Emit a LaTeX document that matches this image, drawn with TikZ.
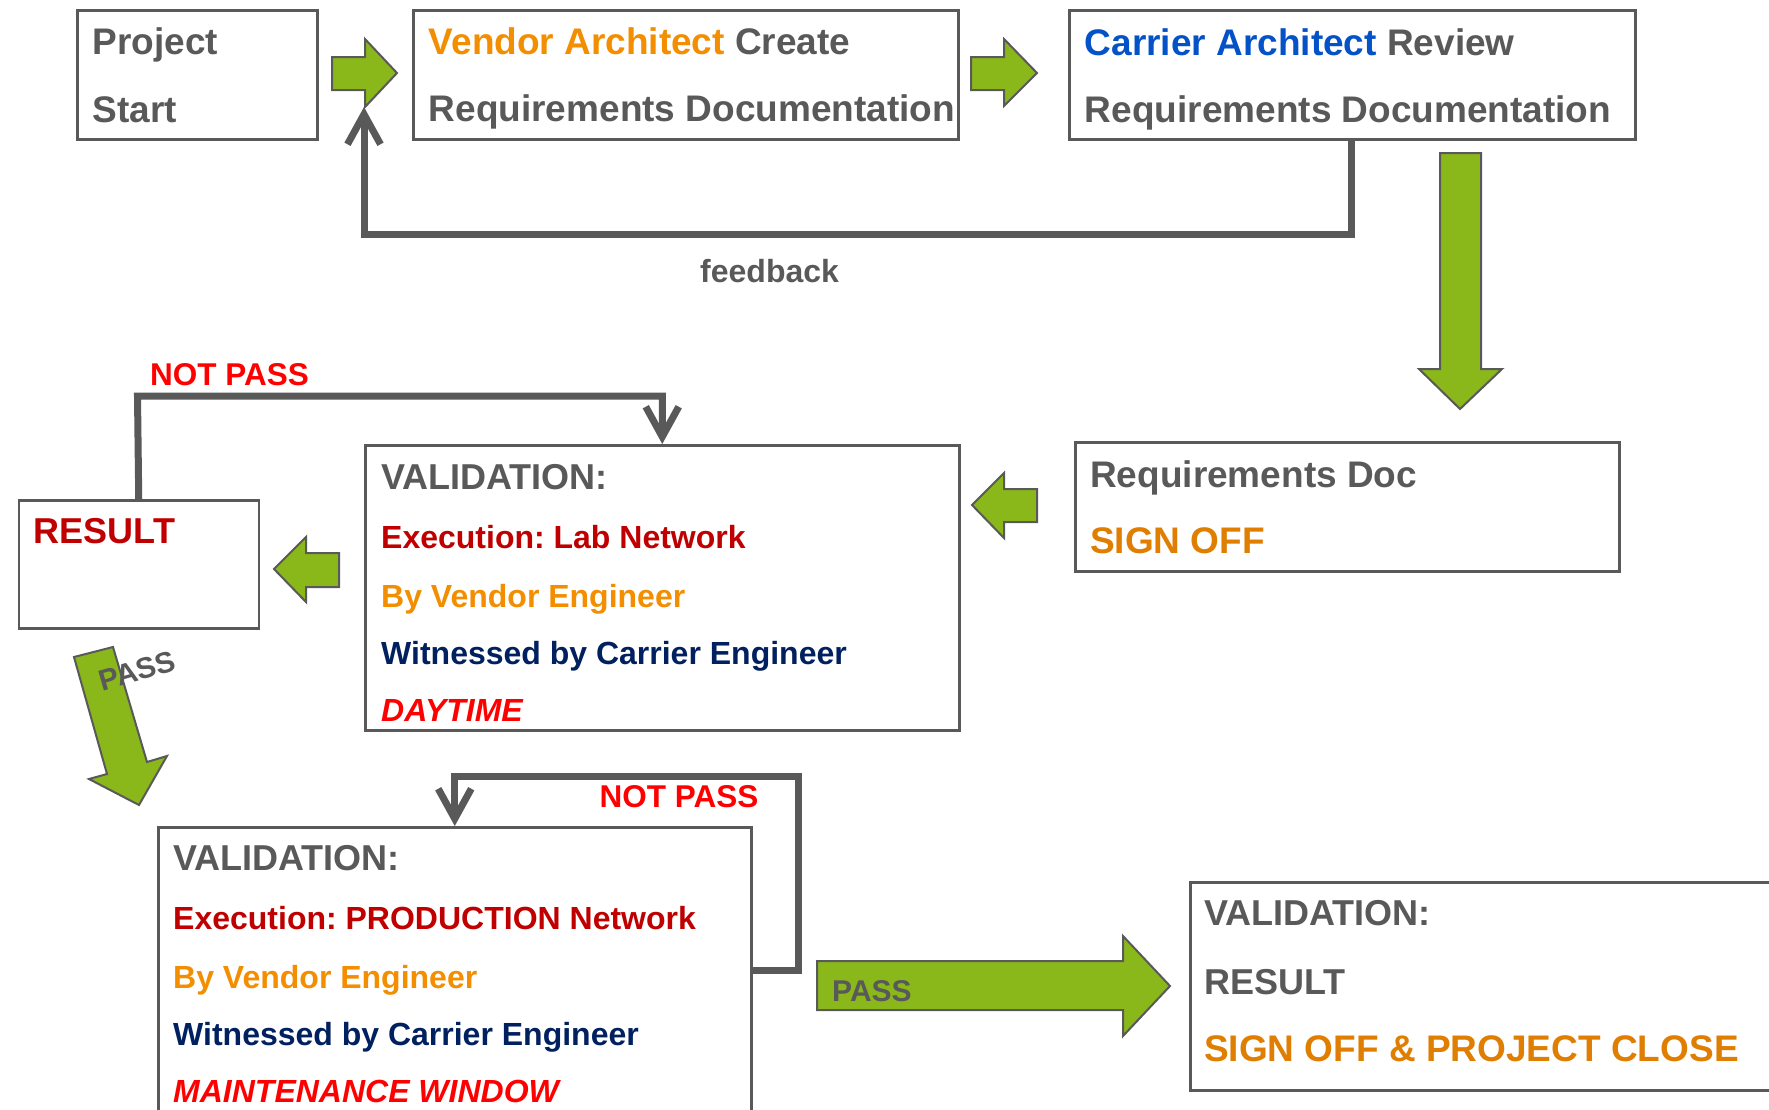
\documentclass[tikz,border=0pt]{standalone}
\usepackage{fontspec}
\setmainfont{Liberation Sans}
\usetikzlibrary{arrows.meta}
\frenchspacing
\definecolor{tgray}{HTML}{595959}
\definecolor{lgray}{HTML}{595959}
\definecolor{agreen}{HTML}{8AB81B}
\definecolor{orA}{HTML}{F28E00}
\definecolor{orB}{HTML}{DF7E00}
\definecolor{cblue}{HTML}{0452C8}
\definecolor{dred}{HTML}{C00000}
\definecolor{navy}{HTML}{002060}
\definecolor{bred}{HTML}{FF0000}
\tikzset{
  box/.style={draw=lgray, line width=2.5pt, fill=white, inner sep=0pt, anchor=north west},
  tbig/.style={anchor=base west, inner sep=0pt, text=tgray, font=\bfseries\fontsize{37}{44}\selectfont},
  tval/.style={anchor=base west, inner sep=0pt, text=tgray, font=\bfseries\fontsize{36}{43}\selectfont},
  tsmall/.style={anchor=base west, inner sep=0pt, text=tgray, font=\bfseries\fontsize{32}{38}\selectfont},
  garrow/.style={fill=agreen, draw=lgray, line width=2pt, line join=miter},
  conn/.style={draw=lgray, line width=7pt, line join=miter, -{Straight Barb[length=30pt,width=33pt]}}
}
\begin{document}
\begin{tikzpicture}[x=1pt,y=-1pt]
\useasboundingbox (0,0) rectangle (1769,1109);
\clip (0,0) rectangle (1769,1109);
\fill[white] (0,0) rectangle (1769,1109);

% ---------- top row boxes ----------
\node[box, minimum width=240pt, minimum height=129pt] (b1) at (76,9) {};
\node[tbig] (b1a) at (92.5,54) {Project};
\node[tbig] (b1b) at (92.5,122) {Start};

\node[box, minimum width=545pt, minimum height=129pt] (b2) at (412,9) {};
\node[tbig] (b2a) at (428.6,54) {\textcolor{orA}{Vendor Architect} Create};
\node[tbig] (b2b) at (428.6,121) {Requirements Documentation};

\node[box, minimum width=566pt, minimum height=129pt] (b3) at (1068,9) {};
\node[tbig] (b3a) at (1084.7,55.5) {\textcolor{cblue}{Carrier Architect} Review};
\node[tbig] (b3b) at (1084.7,122) {Requirements Documentation};

% ---------- sign off box ----------
\node[box, minimum width=544pt, minimum height=129pt] (b4) at (1074,441) {};
\node[tbig] (b4a) at (1090,487) {Requirements Doc};
\node[tbig, text=orB] (b4b) at (1090,553) {SIGN OFF};

% ---------- validation 1 ----------
\node[box, minimum width=594pt, minimum height=285pt] (val1) at (364,444) {};
\node[tval] (v1a) at (381,489) {VALIDATION:};
\node[tsmall, text=dred] (v1b) at (381,548) {Execution: Lab Network};
\node[tsmall, text=orA] (v1c) at (381,607) {By Vendor Engineer};
\node[tsmall, text=navy] (v1d) at (381,664) {Witnessed by Carrier Engineer};
\node[tsmall, text=bred, font=\bfseries\itshape\fontsize{32}{38}\selectfont] (v1e) at (381,721) {DAYTIME};

% ---------- result box ----------
\node[box, minimum width=240pt, minimum height=128pt] (res) at (17.5,499) {};
\node[tval, text=dred] (resa) at (33.75,543) {RESULT};

% ---------- validation 2 ----------
\node[box, minimum width=593pt, minimum height=330pt] (val2) at (157,826) {};
\node[tval] (v2a) at (173,870) {VALIDATION:};
\node[tsmall, text=dred] (v2b) at (173,929) {Execution: PRODUCTION Network};
\node[tsmall, text=orA] (v2c) at (173,988) {By Vendor Engineer};
\node[tsmall, text=navy] (v2d) at (173,1045) {Witnessed by Carrier Engineer};
\node[tsmall, text=bred, font=\bfseries\itshape\fontsize{32}{38}\selectfont] (v2e) at (173,1102) {MAINTENANCE WINDOW};

% ---------- final box ----------
\node[box, minimum width=640pt, minimum height=208pt] (fin) at (1189,881) {};
\node[tval] (fa) at (1204,925.7) {VALIDATION:};
\node[tval] (fb) at (1204,994) {RESULT};
\node[tbig, text=orB] (fc) at (1204,1061) {SIGN OFF \& PROJECT CLOSE};

% ---------- green block arrows ----------
\draw[garrow] (332,57) -- (365,57) -- (365,39) -- (397,73) -- (365,107) -- (365,90) -- (332,90) -- cycle;
\coordinate (a1tip) at (364,107);
\draw[garrow] (971,57) -- (1004,57) -- (1004,39) -- (1037,73) -- (1004,106) -- (1004,90) -- (971,90) -- cycle;
\draw[garrow] (1440,153) -- (1481,153) -- (1481,369) -- (1502,369) -- (1460,409) -- (1419,369) -- (1440,369) -- cycle;
\draw[garrow] (1037,489) -- (1004,489) -- (1004,473) -- (972,505) -- (1004,538) -- (1004,522) -- (1037,522) -- cycle;
\draw[garrow] (339,553) -- (306,553) -- (306,537) -- (274,569) -- (306,602) -- (306,587) -- (339,587) -- cycle;
\draw[garrow] (74,657) -- (113,647) -- (147,762) -- (167,756) -- (139,805) -- (89,779) -- (107,774) -- cycle;
\draw[garrow] (817,961) -- (1123,961) -- (1123,936) -- (1170,986) -- (1123,1036) -- (1123,1010) -- (817,1010) -- cycle;

% ---------- connectors ----------
\coordinate (fbx) at (1351,234);
\draw[conn] (b3.south -| fbx) -- (fbx) -| (a1tip);
\node[tsmall] (fbl) at (700,282) {feedback};

\coordinate (l1) at (137.5,396);
\draw[conn] (res.north) -- (l1) -| (val1.north);
\node[tsmall, text=bred, font=\bfseries\fontsize{31.5}{37}\selectfont] (np1) at (150,385) {NOT PASS};

\coordinate (l2a) at (798,970);
\coordinate (l2top) at (798,776);
\draw[conn] (l2a -| val2.east) -- (l2a) -- (l2top) -| (val2.north);
\node[tsmall, text=bred, font=\bfseries\fontsize{31.5}{37}\selectfont] (np2) at (599.5,807) {NOT PASS};

% ---------- PASS labels ----------
\node[text=tgray, inner sep=0pt, font=\bfseries\fontsize{29.5}{35}\selectfont, rotate=16] (p1) at (137,671) {PASS};
\node[tsmall, font=\bfseries\fontsize{30}{36}\selectfont] (p2) at (832,1001) {PASS};
\end{tikzpicture}
\end{document}
